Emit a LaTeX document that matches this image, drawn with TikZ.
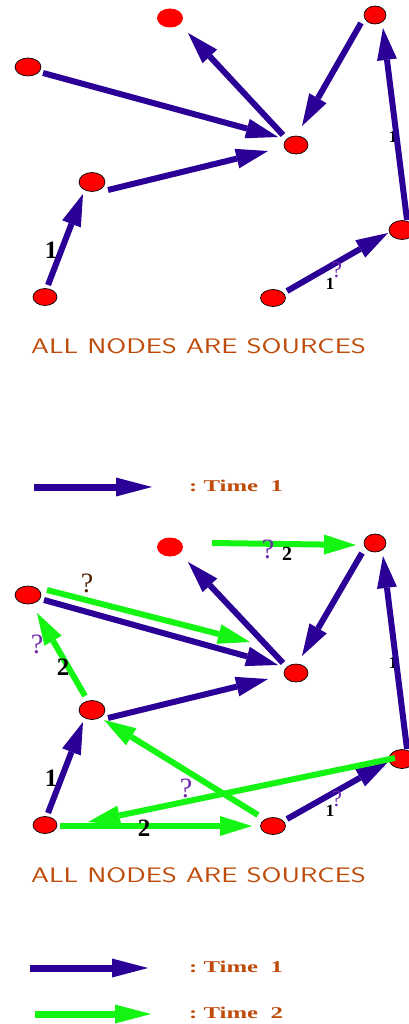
\documentclass[tikz,border=0pt]{standalone}
\usepackage{fontspec}
\setmainfont{Liberation Serif}
\usetikzlibrary{arrows.meta,shapes.geometric,calc}
\definecolor{tblue}{RGB}{42,0,150}
\definecolor{tgreen}{RGB}{20,245,20}
\definecolor{txtor}{RGB}{190,75,10}
\definecolor{qpurple}{RGB}{110,40,170}
\definecolor{qbrown}{RGB}{80,30,0}
\tikzset{
  nd/.style={ellipse, draw=black, line width=0.7pt, fill=red, minimum width=25pt, minimum height=18pt, inner sep=0pt},
  nb/.style={nd, draw=none, minimum width=26pt, minimum height=19pt},
  ta/.style={line width=6pt, -{Triangle[length=32pt,width=20pt,line width=0pt]}},
  t1/.style={ta, draw=tblue, tblue},
  t2/.style={ta, draw=tgreen, tgreen},
  lg/.style={line width=7pt, -{Triangle[length=36pt,width=19pt,line width=0pt]}},
  nums/.style={inner sep=0pt, font=\bfseries\fontsize{17}{17}\selectfont},
  numm/.style={inner sep=0pt, font=\bfseries\fontsize{20}{20}\selectfont},
  numb/.style={inner sep=0pt, font=\bfseries\fontsize{25}{25}\selectfont},
  qp/.style={inner sep=0pt, text=qpurple, font=\fontsize{28}{28}\selectfont},
  qps/.style={inner sep=0pt, text=qpurple, font=\fontsize{23}{23}\selectfont},
  qb/.style={inner sep=0pt, text=qbrown, font=\fontsize{28}{28}\selectfont},
  title/.style={inner sep=0pt, text=txtor, font=\sffamily\fontsize{21}{21}\selectfont},
  legtxt/.style={inner sep=0pt, anchor=west, text=txtor, font=\bfseries\fontsize{16.5}{16.5}\selectfont}
}
\newcommand{\widetitle}{\scalebox{1.37}[1]{ALL NODES ARE SOURCES}}
\newcommand{\widetime}[1]{\scalebox{1.5}[1]{:\ Time\ \ #1}}
\begin{document}
\begin{tikzpicture}[x=1pt,y=-1pt]
\useasboundingbox (0,0) rectangle (409,1024);
% ---------- top diagram ----------
\node[nb] (A) at (170,18) {};
\node[nd, minimum width=22pt] (B) at (375,15) {};
\node[nd, minimum width=26pt] (C) at (28,67) {};
\node[nd, minimum width=24pt] (D) at (296,145) {};
\node[nd, minimum width=26pt, minimum height=19pt] (E) at (92,182) {};
\node[nd, minimum width=26pt, minimum height=19pt] (F) at (402,230) {};
\node[nd, minimum width=24pt, minimum height=17pt] (G) at (45,297) {};
\node[nd, minimum width=25pt, minimum height=17pt] (H) at (273,298) {};
\node[nums] (l1) at (393,137) {1};
\draw[t1] ($(C)+(15,6)$) -- ($(D)+(-18,-8)$);
\draw[t1] ($(D)+(-13,-10)$) -- ($(A)+(18,15)$);
\draw[t1] ($(B)+(-14,8)$) -- ($(D)+(6,-19)$);
\draw[t1] ($(E)+(16,8)$) -- ($(D)+(-28,6)$);
\draw[t1] ($(G)+(3,-12)$) -- ($(E)+(-9,12)$);
\draw[t1] ($(H)+(14,-7)$) -- ($(F)+(-14,3)$);
\draw[t1] ($(F)+(5,-10)$) -- ($(B)+(8,13)$);
\node[numb] (l2) at (51,250) {1};
\node[nums] (l3) at (330,284) {1};
\node[qps] (q1) at (337,270) {?};
\node[title] (ttl1) at (198.5,346) {\widetitle};
\coordinate (la1) at (34,487);
\coordinate (lb1) at (152,487);
\draw[lg, draw=tblue, tblue] (la1) -- (lb1);
\node[legtxt] (lt1) at (189,486) {\widetime{1}};
% ---------- bottom diagram ----------
\node[nb] (A2) at (170,547) {};
\node[nd, minimum width=22pt] (B2) at (375,543) {};
\node[nd, minimum width=26pt] (C2) at (28,595) {};
\node[nd, minimum width=24pt] (D2) at (296,673) {};
\node[nd, minimum width=26pt, minimum height=19pt] (E2) at (92,710) {};
\node[nd, minimum width=26pt, minimum height=19pt] (F2) at (402,759) {};
\node[nd, minimum width=24pt, minimum height=17pt] (G2) at (45,825) {};
\node[nd, minimum width=25pt, minimum height=17pt] (H2) at (273,826) {};
\node[nums] (m1) at (393,663) {1};
\draw[t1] ($(C2)+(16,5)$) -- ($(D2)+(-18,-8)$);
\draw[t1] ($(D2)+(-13,-10)$) -- ($(A2)+(18,15)$);
\draw[t1] ($(B2)+(-13,10)$) -- ($(D2)+(6,-17)$);
\draw[t1] ($(E2)+(16,8)$) -- ($(D2)+(-28,6)$);
\draw[t1] ($(G2)+(3,-12)$) -- ($(E2)+(-9,12)$);
\draw[t1] ($(H2)+(14,-7)$) -- ($(F2)+(-14,3)$);
\draw[t1] ($(F2)+(5,-10)$) -- ($(B2)+(8,13)$);
\draw[t2] ($(A2)+(42,-4)$) -- ($(B2)+(-19,2)$);
\draw[t2] ($(C2)+(19,-5)$) -- ($(D2)+(-46,-31)$);
\draw[t2] ($(E2)+(-7,-14)$) -- ($(C2)+(9,18)$);
\draw[t2] ($(H2)+(-15,-11)$) -- ($(E2)+(12,10)$);
\draw[t2] ($(F2)+(-7,-1)$) -- ($(G2)+(43,-3)$);
\draw[t2] ($(G2)+(15,1)$) -- ($(H2)+(-21,0)$);
\node[qp] (q2) at (268,549) {?};
\node[numm] (m2) at (287,554) {2};
\node[qb] (q3) at (87,583) {?};
\node[qp] (q4) at (37,644) {?};
\node[numb] (m3) at (63,667) {2};
\node[numb] (m4) at (51,778) {1};
\node[qp] (q5) at (186,788) {?};
\node[numb] (m5) at (144,828) {2};
\node[nums] (m6) at (330,811) {1};
\node[qps] (q6) at (337,799) {?};
\node[title] (ttl2) at (198.5,875) {\widetitle};
\coordinate (la2) at (30,968);
\coordinate (lb2) at (148,968);
\draw[lg, draw=tblue, tblue] (la2) -- (lb2);
\node[legtxt] (lt2) at (189,967) {\widetime{1}};
\coordinate (la3) at (35,1014);
\coordinate (lb3) at (151,1014);
\draw[lg, draw=tgreen, tgreen] (la3) -- (lb3);
\node[legtxt] (lt3) at (189,1013) {\widetime{2}};
\end{tikzpicture}
\end{document}
